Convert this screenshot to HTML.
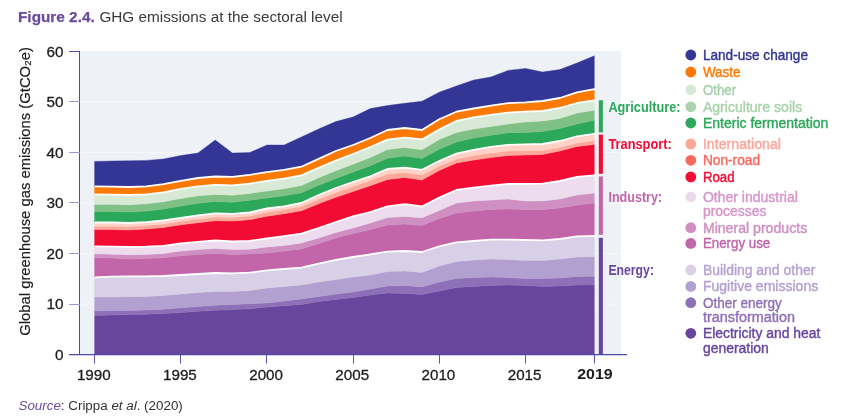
<!DOCTYPE html>
<html><head><meta charset="utf-8"><title>Figure 2.4</title>
<style>
html,body{margin:0;padding:0;background:#fff;}
svg{display:block;font-family:"Liberation Sans",sans-serif;}
</style></head><body>
<svg width="844" height="420" viewBox="0 0 844 420">
<rect width="844" height="420" fill="#fff"/>
<rect x="80" y="51" width="541" height="303.5" fill="#eef2f6"/>
<line x1="80" x2="621" y1="354.6" y2="354.6" stroke="#f7f9fb" stroke-width="1"/>
<line x1="80" x2="621" y1="304.1" y2="304.1" stroke="#f7f9fb" stroke-width="1"/>
<line x1="80" x2="621" y1="253.5" y2="253.5" stroke="#f7f9fb" stroke-width="1"/>
<line x1="80" x2="621" y1="203.0" y2="203.0" stroke="#f7f9fb" stroke-width="1"/>
<line x1="80" x2="621" y1="152.4" y2="152.4" stroke="#f7f9fb" stroke-width="1"/>
<line x1="80" x2="621" y1="101.9" y2="101.9" stroke="#f7f9fb" stroke-width="1"/>
<polygon points="94.6,315.6 111.8,315.0 129.1,314.6 146.3,314.2 163.5,313.6 180.8,312.5 198.0,311.3 215.2,310.3 232.4,309.5 249.7,308.8 266.9,307.0 284.1,305.8 301.4,304.4 318.6,301.6 335.8,299.4 353.0,297.4 370.3,295.0 387.5,293.0 404.7,293.4 422.0,294.4 439.2,291.0 456.4,287.6 473.7,286.4 490.9,285.6 508.1,285.0 525.4,285.6 542.6,286.4 559.8,286.0 577.0,285.0 594.3,285.0 594.3,354.5 577.0,354.5 559.8,354.5 542.6,354.5 525.4,354.5 508.1,354.5 490.9,354.5 473.7,354.5 456.4,354.5 439.2,354.5 422.0,354.5 404.7,354.5 387.5,354.5 370.3,354.5 353.0,354.5 335.8,354.5 318.6,354.5 301.4,354.5 284.1,354.5 266.9,354.5 249.7,354.5 232.4,354.5 215.2,354.5 198.0,354.5 180.8,354.5 163.5,354.5 146.3,354.5 129.1,354.5 111.8,354.5 94.6,354.5" fill="#68469e" stroke="#68469e" stroke-width="0.4"/>
<polygon points="94.6,311.0 111.8,310.6 129.1,310.4 146.3,310.0 163.5,309.2 180.8,307.8 198.0,306.5 215.2,305.3 232.4,304.5 249.7,303.8 266.9,303.0 284.1,301.0 301.4,299.0 318.6,296.4 335.8,294.0 353.0,292.0 370.3,289.0 387.5,286.0 404.7,285.6 422.0,287.0 439.2,282.0 456.4,278.4 473.7,277.6 490.9,277.0 508.1,277.6 525.4,278.4 542.6,278.4 559.8,278.0 577.0,276.4 594.3,276.3 594.3,285.0 577.0,285.0 559.8,286.0 542.6,286.4 525.4,285.6 508.1,285.0 490.9,285.6 473.7,286.4 456.4,287.6 439.2,291.0 422.0,294.4 404.7,293.4 387.5,293.0 370.3,295.0 353.0,297.4 335.8,299.4 318.6,301.6 301.4,304.4 284.1,305.8 266.9,307.0 249.7,308.8 232.4,309.5 215.2,310.3 198.0,311.3 180.8,312.5 163.5,313.6 146.3,314.2 129.1,314.6 111.8,315.0 94.6,315.6" fill="#8e70b8" stroke="#8e70b8" stroke-width="0.4"/>
<polygon points="94.6,297.0 111.8,297.0 129.1,296.6 146.3,296.4 163.5,295.6 180.8,294.0 198.0,292.6 215.2,291.4 232.4,291.4 249.7,290.6 266.9,288.0 284.1,286.5 301.4,285.0 318.6,282.0 335.8,279.6 353.0,277.0 370.3,275.0 387.5,271.6 404.7,271.0 422.0,272.4 439.2,266.0 456.4,261.6 473.7,260.0 490.9,259.0 508.1,259.6 525.4,260.4 542.6,260.4 559.8,259.0 577.0,257.0 594.3,256.6 594.3,276.3 577.0,276.4 559.8,278.0 542.6,278.4 525.4,278.4 508.1,277.6 490.9,277.0 473.7,277.6 456.4,278.4 439.2,282.0 422.0,287.0 404.7,285.6 387.5,286.0 370.3,289.0 353.0,292.0 335.8,294.0 318.6,296.4 301.4,299.0 284.1,301.0 266.9,303.0 249.7,303.8 232.4,304.5 215.2,305.3 198.0,306.5 180.8,307.8 163.5,309.2 146.3,310.0 129.1,310.4 111.8,310.6 94.6,311.0" fill="#b2a0d0" stroke="#b2a0d0" stroke-width="0.4"/>
<polygon points="94.6,277.4 111.8,276.6 129.1,276.4 146.3,276.4 163.5,276.0 180.8,275.0 198.0,274.0 215.2,273.0 232.4,273.4 249.7,272.6 266.9,270.4 284.1,269.0 301.4,267.6 318.6,263.6 335.8,260.0 353.0,257.0 370.3,254.4 387.5,251.6 404.7,251.0 422.0,252.0 439.2,246.4 456.4,242.4 473.7,241.0 490.9,239.6 508.1,239.6 525.4,240.0 542.6,240.4 559.8,239.0 577.0,236.4 594.3,236.0 594.3,256.6 577.0,257.0 559.8,259.0 542.6,260.4 525.4,260.4 508.1,259.6 490.9,259.0 473.7,260.0 456.4,261.6 439.2,266.0 422.0,272.4 404.7,271.0 387.5,271.6 370.3,275.0 353.0,277.0 335.8,279.6 318.6,282.0 301.4,285.0 284.1,286.5 266.9,288.0 249.7,290.6 232.4,291.4 215.2,291.4 198.0,292.6 180.8,294.0 163.5,295.6 146.3,296.4 129.1,296.6 111.8,297.0 94.6,297.0" fill="#d9cfe6" stroke="#d9cfe6" stroke-width="0.4"/>
<polygon points="94.6,257.8 111.8,258.0 129.1,259.0 146.3,258.4 163.5,257.6 180.8,255.8 198.0,254.4 215.2,253.4 232.4,254.4 249.7,254.0 266.9,253.0 284.1,251.0 301.4,249.0 318.6,243.6 335.8,238.0 353.0,233.6 370.3,229.6 387.5,225.0 404.7,224.0 422.0,225.6 439.2,218.4 456.4,213.0 473.7,211.0 490.9,209.6 508.1,209.0 525.4,209.6 542.6,209.6 559.8,208.0 577.0,205.0 594.3,203.0 594.3,236.0 577.0,236.4 559.8,239.0 542.6,240.4 525.4,240.0 508.1,239.6 490.9,239.6 473.7,241.0 456.4,242.4 439.2,246.4 422.0,252.0 404.7,251.0 387.5,251.6 370.3,254.4 353.0,257.0 335.8,260.0 318.6,263.6 301.4,267.6 284.1,269.0 266.9,270.4 249.7,272.6 232.4,273.4 215.2,273.0 198.0,274.0 180.8,275.0 163.5,276.0 146.3,276.4 129.1,276.4 111.8,276.6 94.6,277.4" fill="#c265a9" stroke="#c265a9" stroke-width="0.4"/>
<polygon points="94.6,253.8 111.8,254.2 129.1,254.8 146.3,254.4 163.5,253.6 180.8,251.0 198.0,249.6 215.2,248.5 232.4,249.6 249.7,249.2 266.9,247.0 284.1,245.6 301.4,243.0 318.6,238.0 335.8,232.4 353.0,228.0 370.3,223.0 387.5,217.6 404.7,216.4 422.0,217.8 439.2,210.4 456.4,203.0 473.7,201.0 490.9,200.0 508.1,199.0 525.4,201.0 542.6,201.0 559.8,199.0 577.0,195.0 594.3,193.0 594.3,203.0 577.0,205.0 559.8,208.0 542.6,209.6 525.4,209.6 508.1,209.0 490.9,209.6 473.7,211.0 456.4,213.0 439.2,218.4 422.0,225.6 404.7,224.0 387.5,225.0 370.3,229.6 353.0,233.6 335.8,238.0 318.6,243.6 301.4,249.0 284.1,251.0 266.9,253.0 249.7,254.0 232.4,254.4 215.2,253.4 198.0,254.4 180.8,255.8 163.5,257.6 146.3,258.4 129.1,259.0 111.8,258.0 94.6,257.8" fill="#cf8fc3" stroke="#cf8fc3" stroke-width="0.4"/>
<polygon points="94.6,246.4 111.8,246.6 129.1,247.0 146.3,246.6 163.5,245.8 180.8,243.5 198.0,241.8 215.2,240.5 232.4,241.5 249.7,241.0 266.9,238.3 284.1,236.2 301.4,233.7 318.6,228.0 335.8,222.0 353.0,216.4 370.3,212.0 387.5,206.3 404.7,204.2 422.0,206.5 439.2,197.6 456.4,190.0 473.7,187.6 490.9,185.6 508.1,184.0 525.4,184.0 542.6,183.6 559.8,181.0 577.0,177.0 594.3,175.4 594.3,193.0 577.0,195.0 559.8,199.0 542.6,201.0 525.4,201.0 508.1,199.0 490.9,200.0 473.7,201.0 456.4,203.0 439.2,210.4 422.0,217.8 404.7,216.4 387.5,217.6 370.3,223.0 353.0,228.0 335.8,232.4 318.6,238.0 301.4,243.0 284.1,245.6 266.9,247.0 249.7,249.2 232.4,249.6 215.2,248.5 198.0,249.6 180.8,251.0 163.5,253.6 146.3,254.4 129.1,254.8 111.8,254.2 94.6,253.8" fill="#ecdcee" stroke="#ecdcee" stroke-width="0.4"/>
<polygon points="94.6,229.6 111.8,229.6 129.1,230.0 146.3,229.0 163.5,227.5 180.8,224.8 198.0,222.7 215.2,220.7 232.4,221.0 249.7,219.7 266.9,216.3 284.1,213.7 301.4,210.8 318.6,203.7 335.8,197.3 353.0,191.5 370.3,185.7 387.5,179.6 404.7,177.6 422.0,180.0 439.2,170.4 456.4,163.0 473.7,160.0 490.9,157.6 508.1,155.6 525.4,155.0 542.6,154.4 559.8,151.0 577.0,146.4 594.3,144.5 594.3,175.4 577.0,177.0 559.8,181.0 542.6,183.6 525.4,184.0 508.1,184.0 490.9,185.6 473.7,187.6 456.4,190.0 439.2,197.6 422.0,206.5 404.7,204.2 387.5,206.3 370.3,212.0 353.0,216.4 335.8,222.0 318.6,228.0 301.4,233.7 284.1,236.2 266.9,238.3 249.7,241.0 232.4,241.5 215.2,240.5 198.0,241.8 180.8,243.5 163.5,245.8 146.3,246.6 129.1,247.0 111.8,246.6 94.6,246.4" fill="#f20c34" stroke="#f20c34" stroke-width="0.4"/>
<polygon points="94.6,226.2 111.8,226.2 129.1,226.6 146.3,225.5 163.5,224.0 180.8,221.3 198.0,219.2 215.2,217.0 232.4,217.4 249.7,216.0 266.9,212.2 284.1,209.8 301.4,206.6 318.6,199.2 335.8,192.6 353.0,186.4 370.3,180.6 387.5,174.0 404.7,172.6 422.0,175.0 439.2,166.0 456.4,159.0 473.7,155.6 490.9,153.0 508.1,151.0 525.4,150.6 542.6,150.4 559.8,147.6 577.0,143.0 594.3,140.5 594.3,144.5 577.0,146.4 559.8,151.0 542.6,154.4 525.4,155.0 508.1,155.6 490.9,157.6 473.7,160.0 456.4,163.0 439.2,170.4 422.0,180.0 404.7,177.6 387.5,179.6 370.3,185.7 353.0,191.5 335.8,197.3 318.6,203.7 301.4,210.8 284.1,213.7 266.9,216.3 249.7,219.7 232.4,221.0 215.2,220.7 198.0,222.7 180.8,224.8 163.5,227.5 146.3,229.0 129.1,230.0 111.8,229.6 94.6,229.6" fill="#fda898" stroke="#fda898" stroke-width="0.4"/>
<polygon points="94.6,222.5 111.8,222.5 129.1,223.0 146.3,222.2 163.5,220.5 180.8,217.8 198.0,215.3 215.2,213.3 232.4,213.8 249.7,212.5 266.9,208.5 284.1,206.3 301.4,203.0 318.6,195.0 335.8,188.0 353.0,182.0 370.3,176.3 387.5,169.0 404.7,167.6 422.0,169.8 439.2,161.0 456.4,153.6 473.7,149.8 490.9,146.9 508.1,144.8 525.4,144.4 542.6,144.0 559.8,141.0 577.0,136.4 594.3,133.8 594.3,140.5 577.0,143.0 559.8,147.6 542.6,150.4 525.4,150.6 508.1,151.0 490.9,153.0 473.7,155.6 456.4,159.0 439.2,166.0 422.0,175.0 404.7,172.6 387.5,174.0 370.3,180.6 353.0,186.4 335.8,192.6 318.6,199.2 301.4,206.6 284.1,209.8 266.9,212.2 249.7,216.0 232.4,217.4 215.2,217.0 198.0,219.2 180.8,221.3 163.5,224.0 146.3,225.5 129.1,226.6 111.8,226.2 94.6,226.2" fill="#ffd2c8" stroke="#ffd2c8" stroke-width="0.4"/>
<polygon points="94.6,211.6 111.8,211.6 129.1,212.0 146.3,211.0 163.5,209.0 180.8,206.0 198.0,203.2 215.2,201.6 232.4,202.2 249.7,200.2 266.9,198.0 284.1,195.8 301.4,192.8 318.6,185.3 335.8,178.4 353.0,172.0 370.3,165.7 387.5,158.2 404.7,156.0 422.0,158.4 439.2,149.2 456.4,142.0 473.7,138.0 490.9,135.2 508.1,132.7 525.4,132.4 542.6,131.6 559.8,128.4 577.0,124.0 594.3,120.2 594.3,133.8 577.0,136.4 559.8,141.0 542.6,144.0 525.4,144.4 508.1,144.8 490.9,146.9 473.7,149.8 456.4,153.6 439.2,161.0 422.0,169.8 404.7,167.6 387.5,169.0 370.3,176.3 353.0,182.0 335.8,188.0 318.6,195.0 301.4,203.0 284.1,206.3 266.9,208.5 249.7,212.5 232.4,213.8 215.2,213.3 198.0,215.3 180.8,217.8 163.5,220.5 146.3,222.2 129.1,223.0 111.8,222.5 94.6,222.5" fill="#2ca85a" stroke="#2ca85a" stroke-width="0.4"/>
<polygon points="94.6,204.5 111.8,204.3 129.1,204.8 146.3,203.8 163.5,201.8 180.8,198.5 198.0,195.8 215.2,194.5 232.4,195.2 249.7,193.4 266.9,191.0 284.1,188.7 301.4,185.5 318.6,177.8 335.8,170.7 353.0,164.2 370.3,157.5 387.5,149.6 404.7,147.5 422.0,149.7 439.2,139.5 456.4,132.5 473.7,129.0 490.9,126.5 508.1,124.0 525.4,122.0 542.6,121.0 559.8,118.4 577.0,113.0 594.3,110.3 594.3,120.2 577.0,124.0 559.8,128.4 542.6,131.6 525.4,132.4 508.1,132.7 490.9,135.2 473.7,138.0 456.4,142.0 439.2,149.2 422.0,158.4 404.7,156.0 387.5,158.2 370.3,165.7 353.0,172.0 335.8,178.4 318.6,185.3 301.4,192.8 284.1,195.8 266.9,198.0 249.7,200.2 232.4,202.2 215.2,201.6 198.0,203.2 180.8,206.0 163.5,209.0 146.3,211.0 129.1,212.0 111.8,211.6 94.6,211.6" fill="#7fc085" stroke="#7fc085" stroke-width="0.4"/>
<polygon points="94.6,194.4 111.8,194.6 129.1,195.0 146.3,194.3 163.5,192.4 180.8,188.8 198.0,186.3 215.2,184.8 232.4,185.3 249.7,183.6 266.9,181.0 284.1,178.6 301.4,175.4 318.6,167.8 335.8,160.7 353.0,154.0 370.3,147.0 387.5,139.6 404.7,137.7 422.0,139.5 439.2,129.6 456.4,121.0 473.7,117.4 490.9,114.8 508.1,112.6 525.4,111.6 542.6,111.0 559.8,108.0 577.0,103.0 594.3,100.4 594.3,110.3 577.0,113.0 559.8,118.4 542.6,121.0 525.4,122.0 508.1,124.0 490.9,126.5 473.7,129.0 456.4,132.5 439.2,139.5 422.0,149.7 404.7,147.5 387.5,149.6 370.3,157.5 353.0,164.2 335.8,170.7 318.6,177.8 301.4,185.5 284.1,188.7 266.9,191.0 249.7,193.4 232.4,195.2 215.2,194.5 198.0,195.8 180.8,198.5 163.5,201.8 146.3,203.8 129.1,204.8 111.8,204.3 94.6,204.5" fill="#d8e9d6" stroke="#d8e9d6" stroke-width="0.4"/>
<polygon points="94.6,186.4 111.8,186.6 129.1,187.0 146.3,186.4 163.5,184.2 180.8,180.8 198.0,178.0 215.2,176.5 232.4,176.8 249.7,174.8 266.9,172.2 284.1,169.8 301.4,166.7 318.6,158.9 335.8,151.0 353.0,145.0 370.3,138.0 387.5,130.0 404.7,128.0 422.0,130.0 439.2,119.2 456.4,111.7 473.7,108.5 490.9,105.7 508.1,103.1 525.4,102.4 542.6,101.0 559.8,98.0 577.0,92.4 594.3,89.2 594.3,100.4 577.0,103.0 559.8,108.0 542.6,111.0 525.4,111.6 508.1,112.6 490.9,114.8 473.7,117.4 456.4,121.0 439.2,129.6 422.0,139.5 404.7,137.7 387.5,139.6 370.3,147.0 353.0,154.0 335.8,160.7 318.6,167.8 301.4,175.4 284.1,178.6 266.9,181.0 249.7,183.6 232.4,185.3 215.2,184.8 198.0,186.3 180.8,188.8 163.5,192.4 146.3,194.3 129.1,195.0 111.8,194.6 94.6,194.4" fill="#fb7a05" stroke="#fb7a05" stroke-width="0.4"/>
<polygon points="94.6,161.4 111.8,161.0 129.1,160.8 146.3,160.4 163.5,159.0 180.8,155.6 198.0,153.0 215.2,140.0 232.4,153.0 249.7,152.6 266.9,145.0 284.1,145.0 301.4,137.0 318.6,129.0 335.8,121.6 353.0,117.0 370.3,108.6 387.5,105.6 404.7,103.3 422.0,101.2 439.2,92.2 456.4,86.0 473.7,80.0 490.9,77.0 508.1,70.4 525.4,68.4 542.6,72.0 559.8,69.6 577.0,63.0 594.3,55.8 594.3,89.2 577.0,92.4 559.8,98.0 542.6,101.0 525.4,102.4 508.1,103.1 490.9,105.7 473.7,108.5 456.4,111.7 439.2,119.2 422.0,130.0 404.7,128.0 387.5,130.0 370.3,138.0 353.0,145.0 335.8,151.0 318.6,158.9 301.4,166.7 284.1,169.8 266.9,172.2 249.7,174.8 232.4,176.8 215.2,176.5 198.0,178.0 180.8,180.8 163.5,184.2 146.3,186.4 129.1,187.0 111.8,186.6 94.6,186.4" fill="#333694" stroke="#333694" stroke-width="0.4"/>
<polyline points="94.6,277.4 111.8,276.6 129.1,276.4 146.3,276.4 163.5,276.0 180.8,275.0 198.0,274.0 215.2,273.0 232.4,273.4 249.7,272.6 266.9,270.4 284.1,269.0 301.4,267.6 318.6,263.6 335.8,260.0 353.0,257.0 370.3,254.4 387.5,251.6 404.7,251.0 422.0,252.0 439.2,246.4 456.4,242.4 473.7,241.0 490.9,239.6 508.1,239.6 525.4,240.0 542.6,240.4 559.8,239.0 577.0,236.4 594.3,236.0 595.5,236.0" fill="none" stroke="#fff" stroke-width="1.8" stroke-linejoin="round"/>
<polyline points="94.6,246.4 111.8,246.6 129.1,247.0 146.3,246.6 163.5,245.8 180.8,243.5 198.0,241.8 215.2,240.5 232.4,241.5 249.7,241.0 266.9,238.3 284.1,236.2 301.4,233.7 318.6,228.0 335.8,222.0 353.0,216.4 370.3,212.0 387.5,206.3 404.7,204.2 422.0,206.5 439.2,197.6 456.4,190.0 473.7,187.6 490.9,185.6 508.1,184.0 525.4,184.0 542.6,183.6 559.8,181.0 577.0,177.0 594.3,175.4 595.5,175.4" fill="none" stroke="#fff" stroke-width="1.8" stroke-linejoin="round"/>
<polyline points="94.6,222.5 111.8,222.5 129.1,223.0 146.3,222.2 163.5,220.5 180.8,217.8 198.0,215.3 215.2,213.3 232.4,213.8 249.7,212.5 266.9,208.5 284.1,206.3 301.4,203.0 318.6,195.0 335.8,188.0 353.0,182.0 370.3,176.3 387.5,169.0 404.7,167.6 422.0,169.8 439.2,161.0 456.4,153.6 473.7,149.8 490.9,146.9 508.1,144.8 525.4,144.4 542.6,144.0 559.8,141.0 577.0,136.4 594.3,133.8 595.5,133.8" fill="none" stroke="#fff" stroke-width="1.8" stroke-linejoin="round"/>
<polyline points="94.6,194.4 111.8,194.6 129.1,195.0 146.3,194.3 163.5,192.4 180.8,188.8 198.0,186.3 215.2,184.8 232.4,185.3 249.7,183.6 266.9,181.0 284.1,178.6 301.4,175.4 318.6,167.8 335.8,160.7 353.0,154.0 370.3,147.0 387.5,139.6 404.7,137.7 422.0,139.5 439.2,129.6 456.4,121.0 473.7,117.4 490.9,114.8 508.1,112.6 525.4,111.6 542.6,111.0 559.8,108.0 577.0,103.0 594.3,100.4 595.5,100.4" fill="none" stroke="#fff" stroke-width="1.8" stroke-linejoin="round"/>
<polyline points="94.6,186.4 111.8,186.6 129.1,187.0 146.3,186.4 163.5,184.2 180.8,180.8 198.0,178.0 215.2,176.5 232.4,176.8 249.7,174.8 266.9,172.2 284.1,169.8 301.4,166.7 318.6,158.9 335.8,151.0 353.0,145.0 370.3,138.0 387.5,130.0 404.7,128.0 422.0,130.0 439.2,119.2 456.4,111.7 473.7,108.5 490.9,105.7 508.1,103.1 525.4,102.4 542.6,101.0 559.8,98.0 577.0,92.4 594.3,89.2 595.5,89.2" fill="none" stroke="#fff" stroke-width="1.8" stroke-linejoin="round"/>
<rect x="598.8" y="100.2" width="4.1" height="32.2" fill="#2ca85a"/>
<rect x="598.8" y="134.6" width="4.1" height="39.2" fill="#f20c34"/>
<rect x="598.8" y="176.4" width="4.1" height="58.4" fill="#c265a9"/>
<rect x="598.8" y="237.8" width="4.1" height="116.7" fill="#68469e"/>
<line x1="79.5" x2="79.5" y1="51" y2="355" stroke="#4f4aa9" stroke-width="1"/>
<line x1="69" x2="627" y1="354.6" y2="354.6" stroke="#4f4aa9" stroke-width="1.2"/>
<line x1="69" x2="80" y1="304.5" y2="304.5" stroke="#a396d4" stroke-width="1"/>
<line x1="69" x2="80" y1="253.5" y2="253.5" stroke="#a396d4" stroke-width="1"/>
<line x1="69" x2="80" y1="202.5" y2="202.5" stroke="#a396d4" stroke-width="1"/>
<line x1="69" x2="80" y1="152.5" y2="152.5" stroke="#a396d4" stroke-width="1"/>
<line x1="69" x2="80" y1="101.5" y2="101.5" stroke="#a396d4" stroke-width="1"/>
<line x1="69" x2="80" y1="51.5" y2="51.5" stroke="#4f4aa9" stroke-width="1"/>
<line x1="94.5" x2="94.5" y1="355" y2="363.6" stroke="#6b4fb0" stroke-width="1"/>
<line x1="180.5" x2="180.5" y1="355" y2="363.6" stroke="#6b4fb0" stroke-width="1"/>
<line x1="266.5" x2="266.5" y1="355" y2="363.6" stroke="#6b4fb0" stroke-width="1"/>
<line x1="353.5" x2="353.5" y1="355" y2="363.6" stroke="#6b4fb0" stroke-width="1"/>
<line x1="439.5" x2="439.5" y1="355" y2="363.6" stroke="#6b4fb0" stroke-width="1"/>
<line x1="525.5" x2="525.5" y1="355" y2="363.6" stroke="#6b4fb0" stroke-width="1"/>
<line x1="594.5" x2="594.5" y1="355" y2="363.6" stroke="#6b4fb0" stroke-width="1"/>
<text x="63.6" y="359.8" text-anchor="end" font-size="15.3" fill="#1d1d1f" stroke="#1d1d1f" stroke-width="0.3">0</text>
<text x="63.6" y="309.3" text-anchor="end" font-size="15.3" fill="#1d1d1f" stroke="#1d1d1f" stroke-width="0.3">10</text>
<text x="63.6" y="258.7" text-anchor="end" font-size="15.3" fill="#1d1d1f" stroke="#1d1d1f" stroke-width="0.3">20</text>
<text x="63.6" y="208.2" text-anchor="end" font-size="15.3" fill="#1d1d1f" stroke="#1d1d1f" stroke-width="0.3">30</text>
<text x="63.6" y="157.6" text-anchor="end" font-size="15.3" fill="#1d1d1f" stroke="#1d1d1f" stroke-width="0.3">40</text>
<text x="63.6" y="107.1" text-anchor="end" font-size="15.3" fill="#1d1d1f" stroke="#1d1d1f" stroke-width="0.3">50</text>
<text x="63.6" y="56.6" text-anchor="end" font-size="15.3" fill="#1d1d1f" stroke="#1d1d1f" stroke-width="0.3">60</text>
<text x="93.8" y="379.7" text-anchor="middle" font-size="15.3" fill="#1d1d1f" stroke="#1d1d1f" stroke-width="0.3" textLength="33.8" lengthAdjust="spacingAndGlyphs">1990</text>
<text x="179.9" y="379.7" text-anchor="middle" font-size="15.3" fill="#1d1d1f" stroke="#1d1d1f" stroke-width="0.3" textLength="33.8" lengthAdjust="spacingAndGlyphs">1995</text>
<text x="266.1" y="379.7" text-anchor="middle" font-size="15.3" fill="#1d1d1f" stroke="#1d1d1f" stroke-width="0.3" textLength="33.8" lengthAdjust="spacingAndGlyphs">2000</text>
<text x="352.2" y="379.7" text-anchor="middle" font-size="15.3" fill="#1d1d1f" stroke="#1d1d1f" stroke-width="0.3" textLength="33.8" lengthAdjust="spacingAndGlyphs">2005</text>
<text x="438.4" y="379.7" text-anchor="middle" font-size="15.3" fill="#1d1d1f" stroke="#1d1d1f" stroke-width="0.3" textLength="33.8" lengthAdjust="spacingAndGlyphs">2010</text>
<text x="524.6" y="379.7" text-anchor="middle" font-size="15.3" fill="#1d1d1f" stroke="#1d1d1f" stroke-width="0.3" textLength="33.8" lengthAdjust="spacingAndGlyphs">2015</text>
<text x="594.9" y="379.3" text-anchor="middle" font-size="15.3" font-weight="bold" fill="#1d1d1f" textLength="35.5" lengthAdjust="spacingAndGlyphs">2019</text>
<text transform="translate(30.4,335.7) rotate(-90)" font-size="14.3" fill="#1d1d1f" stroke="#1d1d1f" stroke-width="0.2" textLength="288.7" lengthAdjust="spacingAndGlyphs">Global greenhouse gas emissions (GtCO₂e)</text>
<text x="18" y="22" font-size="15.4" font-weight="bold" fill="#6a4c9c" stroke="#6a4c9c" stroke-width="0.25" textLength="76.7" lengthAdjust="spacingAndGlyphs">Figure 2.4.</text>
<text x="99.4" y="22" font-size="15.4" fill="#3a3a3a" textLength="243.2" lengthAdjust="spacingAndGlyphs">GHG emissions at the sectoral level</text>
<text x="18.5" y="410.2" font-size="12.5" fill="#333" textLength="164.3" lengthAdjust="spacingAndGlyphs"><tspan fill="#6a4c9c" font-style="italic">Source</tspan>: Crippa <tspan font-style="italic">et al</tspan>. (2020)</text>
<circle cx="690.8" cy="55" r="5.4" fill="#333694"/>
<text x="702.9" y="59.9" font-size="14" fill="#333694" stroke="#333694" stroke-width="0.4" textLength="105.1" lengthAdjust="spacingAndGlyphs">Land-use change</text>
<circle cx="690.8" cy="72" r="5.4" fill="#fb7a05"/>
<text x="702.9" y="76.9" font-size="14" fill="#fb7a05" stroke="#fb7a05" stroke-width="0.4" textLength="37.7" lengthAdjust="spacingAndGlyphs">Waste</text>
<circle cx="690.8" cy="89.8" r="5.4" fill="#d6e9d6"/>
<text x="702.9" y="94.7" font-size="14" fill="#a6d0aa" stroke="#a6d0aa" stroke-width="0.4" textLength="33.3" lengthAdjust="spacingAndGlyphs">Other</text>
<circle cx="690.8" cy="106.8" r="5.4" fill="#a9d3ab"/>
<text x="702.9" y="111.7" font-size="14" fill="#a9d3ab" stroke="#a9d3ab" stroke-width="0.4" textLength="99.3" lengthAdjust="spacingAndGlyphs">Agriculture soils</text>
<circle cx="690.8" cy="123" r="5.4" fill="#2ca85a"/>
<text x="702.9" y="127.9" font-size="14" fill="#2ca85a" stroke="#2ca85a" stroke-width="0.4" textLength="125.5" lengthAdjust="spacingAndGlyphs">Enteric fermentation</text>
<circle cx="690.8" cy="144" r="5.4" fill="#fca69a"/>
<text x="702.9" y="148.9" font-size="14" fill="#fca69a" stroke="#fca69a" stroke-width="0.4" textLength="78.1" lengthAdjust="spacingAndGlyphs">International</text>
<circle cx="690.8" cy="160.3" r="5.4" fill="#f7695f"/>
<text x="702.9" y="165.2" font-size="14" fill="#f7695f" stroke="#f7695f" stroke-width="0.4" textLength="57.2" lengthAdjust="spacingAndGlyphs">Non-road</text>
<circle cx="690.8" cy="177" r="5.4" fill="#f20c34"/>
<text x="702.9" y="181.9" font-size="14" fill="#f20c34" stroke="#f20c34" stroke-width="0.4" textLength="31.6" lengthAdjust="spacingAndGlyphs">Road</text>
<circle cx="690.8" cy="196.8" r="5.4" fill="#ecd9ec"/>
<text x="702.9" y="201.7" font-size="14" fill="#d696ca" stroke="#d696ca" stroke-width="0.4" textLength="95.0" lengthAdjust="spacingAndGlyphs">Other industrial</text>
<text x="702.9" y="216.2" font-size="14" fill="#d696ca" stroke="#d696ca" stroke-width="0.4" textLength="63.6" lengthAdjust="spacingAndGlyphs">processes</text>
<circle cx="690.8" cy="227.7" r="5.4" fill="#cf8fc3"/>
<text x="702.9" y="232.6" font-size="14" fill="#cf8fc3" stroke="#cf8fc3" stroke-width="0.4" textLength="104.3" lengthAdjust="spacingAndGlyphs">Mineral products</text>
<circle cx="690.8" cy="243.4" r="5.4" fill="#c265a9"/>
<text x="702.9" y="248.3" font-size="14" fill="#c265a9" stroke="#c265a9" stroke-width="0.4" textLength="67.4" lengthAdjust="spacingAndGlyphs">Energy use</text>
<circle cx="690.8" cy="270" r="5.4" fill="#d9cfe6"/>
<text x="702.9" y="274.9" font-size="14" fill="#b5a2d2" stroke="#b5a2d2" stroke-width="0.4" textLength="112.4" lengthAdjust="spacingAndGlyphs">Building and other</text>
<circle cx="690.8" cy="286.4" r="5.4" fill="#b2a0d0"/>
<text x="702.9" y="291.3" font-size="14" fill="#b2a0d0" stroke="#b2a0d0" stroke-width="0.4" textLength="115.3" lengthAdjust="spacingAndGlyphs">Fugitive emissions</text>
<circle cx="690.8" cy="302.7" r="5.4" fill="#8e70b8"/>
<text x="702.9" y="307.6" font-size="14" fill="#8e70b8" stroke="#8e70b8" stroke-width="0.4" textLength="79.0" lengthAdjust="spacingAndGlyphs">Other energy</text>
<text x="702.9" y="322.1" font-size="14" fill="#8e70b8" stroke="#8e70b8" stroke-width="0.4" textLength="92.1" lengthAdjust="spacingAndGlyphs">transformation</text>
<circle cx="690.8" cy="333.3" r="5.4" fill="#68469e"/>
<text x="702.9" y="338.2" font-size="14" fill="#68469e" stroke="#68469e" stroke-width="0.4" textLength="117.4" lengthAdjust="spacingAndGlyphs">Electricity and heat</text>
<text x="702.9" y="352.7" font-size="14" fill="#68469e" stroke="#68469e" stroke-width="0.4" textLength="65.9" lengthAdjust="spacingAndGlyphs">generation</text>
<text x="608.4" y="111.7" font-size="14" font-weight="bold" fill="#2ca85a" textLength="72.1" lengthAdjust="spacingAndGlyphs">Agriculture:</text>
<text x="608.4" y="148.9" font-size="14" font-weight="bold" fill="#f20c34" textLength="63.4" lengthAdjust="spacingAndGlyphs">Transport:</text>
<text x="608.4" y="201.7" font-size="14" font-weight="bold" fill="#c265a9" textLength="53.8" lengthAdjust="spacingAndGlyphs">Industry:</text>
<text x="608.4" y="274.9" font-size="14" font-weight="bold" fill="#68469e" textLength="45.6" lengthAdjust="spacingAndGlyphs">Energy:</text>
</svg>
</body></html>
